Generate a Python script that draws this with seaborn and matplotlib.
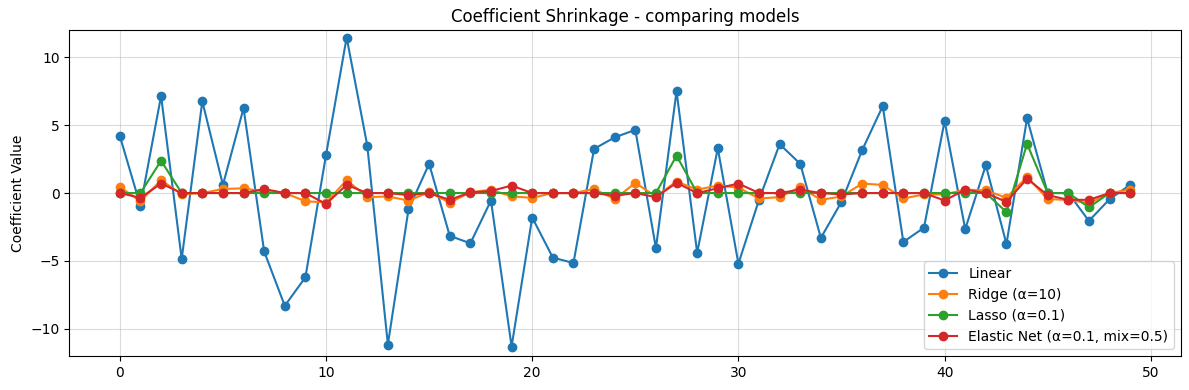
import numpy as np
import pandas as pd
import matplotlib
matplotlib.use("Agg")
import matplotlib.pyplot as plt
import seaborn as sns

# coefficient index
feature_idx = list(range(50))

linear = [4.2, -0.95, 7.15, -4.85, 6.75, 0.6, 6.25, -4.3, -8.3, -6.2,
          2.8, 11.45, 3.5, -11.15, -1.2, 2.15, -3.15, -3.7, -0.55, -11.3,
          -1.8, -4.75, -5.15, 3.25, 4.1, 4.65, -4.05, 7.5, -4.4, 3.3,
          -5.2, -0.5, 3.6, 2.15, -3.3, -0.65, 3.15, 6.4, -3.6, -2.55,
          5.3, -2.65, 2.05, -3.75, 5.5, 0.0, 0.0, -2.05, -0.45, 0.6]

ridge = [0.45, -0.6, 0.95, -0.1, 0.0, 0.3, 0.35, 0.1, 0.0, -0.6,
         -0.7, 0.95, -0.3, -0.25, -0.55, 0.05, -0.7, 0.05, 0.25, -0.25,
         -0.35, 0.0, 0.0, 0.3, -0.45, 0.75, -0.25, 0.85, 0.25, 0.55,
         0.4, -0.4, -0.3, 0.45, -0.5, -0.25, 0.7, 0.6, -0.4, -0.1,
         -0.1, 0.25, 0.2, -0.35, 1.2, -0.45, -0.5, -0.75, 0.0, 0.25]

lasso = [0.0, 0.0, 2.38, 0.0, 0.0, 0.0, 0.0, 0.0, 0.0, 0.0,
         0.0, 0.0, 0.0, 0.0, 0.0, 0.0, 0.0, 0.0, 0.0, 0.0,
         0.0, 0.0, 0.0, 0.0, 0.0, 0.0, 0.0, 2.75, 0.0, 0.0,
         0.0, 0.0, 0.0, 0.0, 0.0, 0.0, 0.0, 0.0, 0.0, 0.0,
         0.0, 0.0, 0.0, -1.4, 3.62, 0.0, 0.0, -1.05, 0.0, 0.0]

enet = [0.0, -0.35, 0.7, 0.0, 0.0, 0.0, 0.0, 0.3, 0.0, 0.0,
        -0.8, 0.6, 0.0, 0.0, -0.15, 0.0, -0.5, 0.05, 0.15, 0.55,
        0.0, 0.0, 0.0, 0.0, -0.2, 0.0, -0.3, 0.75, 0.0, 0.35,
        0.7, 0.0, 0.0, 0.25, 0.0, -0.1, 0.0, 0.0, 0.0, 0.0,
        -0.55, 0.25, 0.0, -0.65, 1.05, -0.15, -0.5, -0.5, 0.0, 0.0]

series = [
    ("Linear", linear, "#1f77b4"),
    ("Ridge (α=10)", ridge, "#ff7f0e"),
    ("Lasso (α=0.1)", lasso, "#2ca02c"),
    ("Elastic Net (α=0.1, mix=0.5)", enet, "#d62728"),
]

fig, ax = plt.subplots(figsize=(11.89, 3.9), dpi=100)

for name, vals, col in series:
    df = pd.DataFrame({"idx": feature_idx, "coef": vals})
    sns.lineplot(data=df, x="idx", y="coef", ax=ax, label=name, color=col,
                 marker="o", markersize=6, markeredgecolor=col,
                 markeredgewidth=1, linewidth=1.5)

ax.set_ylim(-12, 12)
ax.set_title("Coefficient Shrinkage - comparing models")
ax.set_xlabel("")
ax.set_ylabel("Coefficient Value")
ax.grid(True, alpha=0.45)
ax.legend(loc="lower right")

plt.subplots_adjust(left=0.0583, right=0.993, top=0.923, bottom=0.087)
plt.savefig("out.png")
